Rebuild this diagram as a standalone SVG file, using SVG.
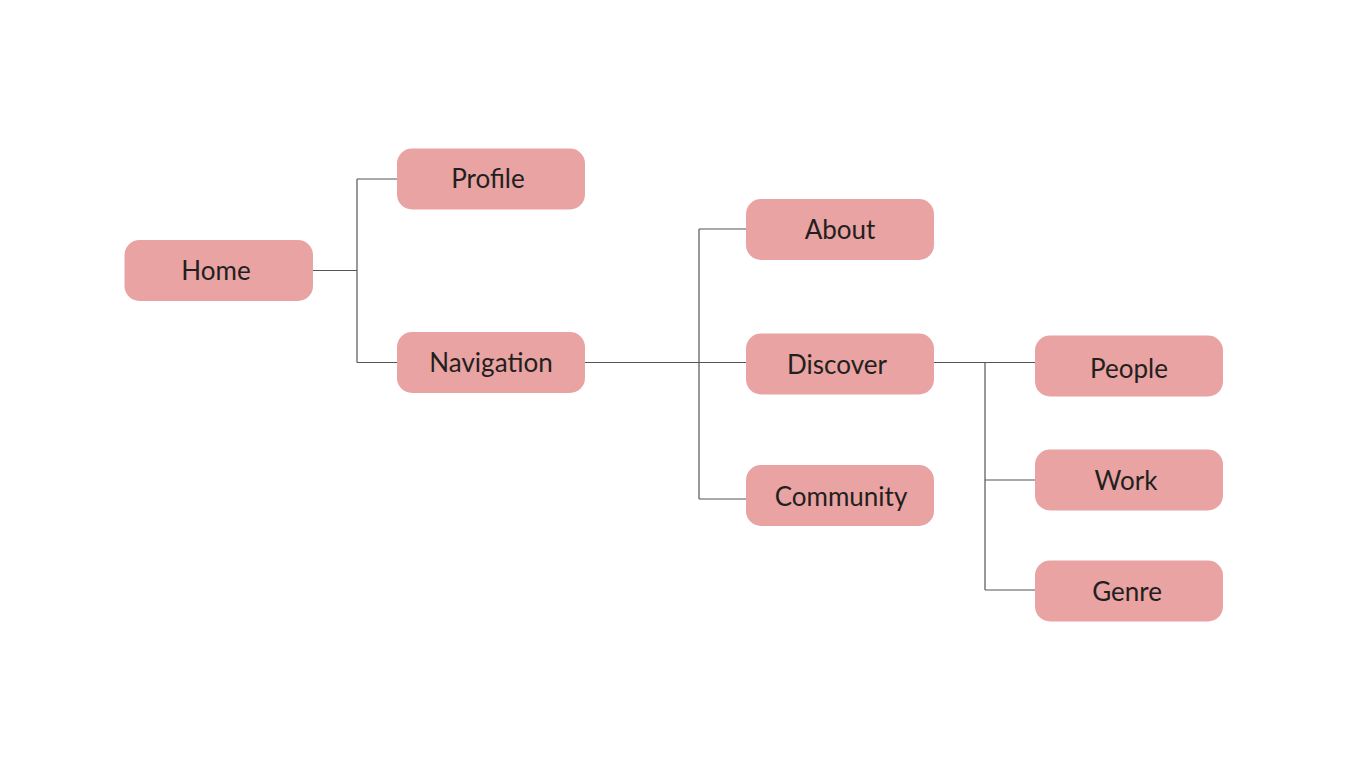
<svg xmlns="http://www.w3.org/2000/svg" width="1366" height="768" viewBox="0 0 1366 768">
<style>
.box{fill:#E9A3A2}
.lbl{font-family:Lato,"Open Sans","Liberation Sans",sans-serif;font-size:26px;fill:#231F20;text-anchor:middle}
.ln{fill:none;stroke:#555;stroke-width:1.2}
</style>
<rect width="1366" height="768" fill="#fff"/>
<g id="connectors">
<path class="ln" d="M313 270.5H357M357 179V362.5M357 179H397M357 362.5H397"/>
<path class="ln" d="M585 362.5H746M699 229V499M699 229H746M699 499H746"/>
<path class="ln" d="M934 362.5H1035M985 362.5V590M985 480H1035M985 590H1035"/>
</g>
<g id="home"><rect class="box" x="124.5" y="240" width="188.5" height="61" rx="15"/><text class="lbl" x="216" y="280">Home</text></g>
<g id="profile"><rect class="box" x="397" y="148.5" width="188" height="61" rx="15"/><text class="lbl" x="488" y="188">Profile</text></g>
<g id="navigation"><rect class="box" x="397" y="332" width="188" height="61" rx="15"/><text class="lbl" x="491" y="372">Navigation</text></g>
<g id="about"><rect class="box" x="746" y="199" width="188" height="61" rx="15"/><text class="lbl" x="840" y="239">About</text></g>
<g id="discover"><rect class="box" x="746" y="333.5" width="188" height="61" rx="15"/><text class="lbl" x="837" y="374">Discover</text></g>
<g id="community"><rect class="box" x="746" y="465" width="188" height="61" rx="15"/><text class="lbl" x="841" y="506">Community</text></g>
<g id="people"><rect class="box" x="1035" y="335.5" width="188" height="61" rx="15"/><text class="lbl" x="1129" y="378">People</text></g>
<g id="work"><rect class="box" x="1035" y="449.5" width="188" height="61" rx="15"/><text class="lbl" x="1126" y="490">Work</text></g>
<g id="genre"><rect class="box" x="1035" y="560.5" width="188" height="61" rx="15"/><text class="lbl" x="1127" y="601">Genre</text></g>
</svg>
